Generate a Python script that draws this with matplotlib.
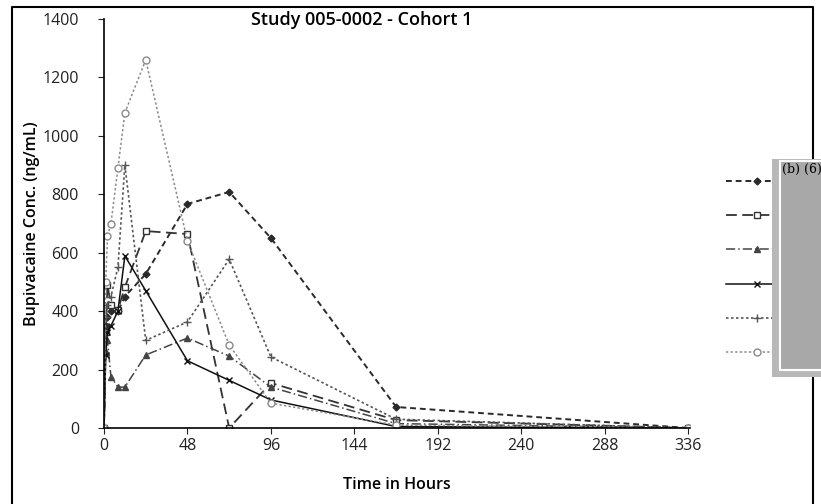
import numpy as np
import matplotlib
matplotlib.use('Agg')
import matplotlib.pyplot as plt
from matplotlib.patches import Rectangle
from matplotlib.lines import Line2D

# sampling times (hours)
hours = [0, 1, 2, 4, 8, 12, 24, 48, 72, 96, 168, 336]

# concentrations (ng/mL)
subj1 = [0, 350, 380, 400, 400, 450, 527, 767, 808, 650, 72, 0]
subj2 = [0, 330, 490, 420, 404, 482, 674, 664, 0, 154, 27, 0]
subj3 = [0, 260, 300, 175, 140, 140, 250, 308, 246, 140, 15, 0]
subj4 = [0, 250, 330, 350, 400, 589, 470, 230, 163, 96, 5, 0]
subj5 = [0, 380, 420, 450, 550, 900, 300, 363, 578, 243, 30, 0]
subj6 = [0, 500, 657, 700, 889, 1079, 1260, 640, 284, 85, 10, 0]

series = [subj1, subj2, subj3, subj4, subj5, subj6]
styles = [
    dict(color='#2a2a2a', ls=(0, (3, 2)), marker='D', ms=3.5, mfc='#2a2a2a', lw=1.4),
    dict(color='#333333', ls=(0, (6, 3)), marker='s', ms=5, mfc='white', lw=1.3),
    dict(color='#444444', ls=(0, (6, 2, 1, 2)), marker='^', ms=5, mfc='#444444', lw=1.1),
    dict(color='#111111', ls='-', marker='x', ms=5, mfc='none', lw=1.1),
    dict(color='#555555', ls=(0, (1.5, 1.5)), marker='+', ms=6, mfc='none', lw=1.2),
    dict(color='#8a8a8a', ls=(0, (1.5, 1.5)), marker='o', ms=5, mfc='white', lw=1.1),
]

font = 'Open Sans'
fig = plt.figure(figsize=(8.21, 5.04), dpi=100)
ax = fig.add_axes([104 / 821, 76 / 504, 586 / 821, 409 / 504])

handles = []
for vals, st in zip(series, styles):
    h, = ax.plot(hours, vals, **st)
    handles.append(h)

ax.set_xlim(0, 337)
ax.set_ylim(0, 1400)
ax.set_xticks(range(0, 337, 48))
ax.set_yticks(range(0, 1401, 200))
for s in ['top', 'right']:
    ax.spines[s].set_visible(False)
ax.spines['left'].set_linewidth(1.2)
ax.spines['bottom'].set_linewidth(1.2)
ax.tick_params(axis='both', direction='out', length=4, width=0.8, labelsize=11.5,
               colors='#222222')
ax.tick_params(axis='y', pad=14)
ax.tick_params(axis='x', pad=3)
for t in ax.get_xticklabels() + ax.get_yticklabels():
    t.set_family(font)

fig.text(362 / 821, 1 - 20 / 504, 'Study 005-0002 - Cohort 1', fontsize=13,
         family=font, fontweight='semibold', ha='center', va='center')
ax.set_xlabel('Time in Hours', fontsize=11.5, family=font, fontweight='semibold', labelpad=17)
ax.set_ylabel('Bupivacaine Conc. (ng/mL)', fontsize=11.5, family=font,
              fontweight='semibold', labelpad=2)

# legend, labels are blacked out in the source
fig.legend(handles=handles, labels=[''] * 6, loc='upper left',
           bbox_to_anchor=(726 / 821, 1 - 175 / 504), frameon=False,
           handlelength=4.5, numpoints=1, borderpad=0, borderaxespad=0,
           labelspacing=1.45, handletextpad=0.5, fontsize=10)

# outer frame of the page (left, top, right)
fig.add_artist(Line2D([12 / 821, 12 / 821, 813 / 821, 813 / 821], [0, 497 / 504, 497 / 504, 0],
                      transform=fig.transFigure, color='black', lw=1.5, zorder=5))

# redaction box over legend labels
fig.add_artist(Rectangle((772 / 821, 1 - 377 / 504), 60 / 821, 218 / 504,
                         transform=fig.transFigure, fc='#b8b8b8', ec='none', zorder=10))
fig.add_artist(Rectangle((780 / 821, 1 - 370 / 504), 60 / 821, 209 / 504,
                         transform=fig.transFigure, fc='#a8a8a8', ec='white', lw=1.5, zorder=11))
fig.text(782 / 821, 1 - 163 / 504, '(b) (6)', family='DejaVu Serif', fontsize=9,
         va='top', ha='left', zorder=12)

fig.savefig('out.png', dpi=100)
